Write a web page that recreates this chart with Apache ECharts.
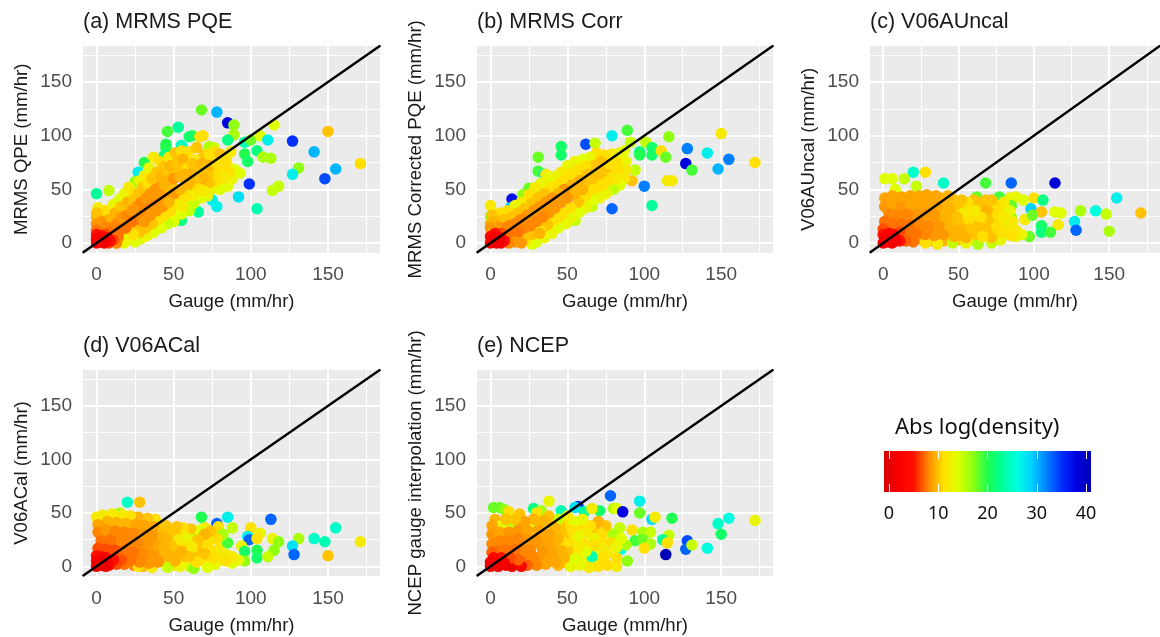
<!DOCTYPE html>
<html><head><meta charset="utf-8">
<style>html,body{margin:0;padding:0;background:#fff}#c{width:1160px;height:637px}</style>
<script src="https://cdn.jsdelivr.net/npm/echarts@6/dist/echarts.min.js"></script>
</head><body><div id="c"></div>
<script>
const majorTicks=[0,50,100,150];
const minorTicks=[25,75,125,175];
const legendTicks=[0,10,20,30,40];
const legendColors=['#d80000','#f80000','#ff1000','#ff8800','#ffe000','#e0ff00','#90ff10','#20ff50','#00ff9a','#00ffe0','#00d0ff','#0080ff','#0030ff','#0000e0','#0000b8'];
const titles=['(a) MRMS PQE','(b) MRMS Corr','(c) V06AUncal','(d) V06ACal','(e) NCEP'];
const yNames=['MRMS QPE (mm/hr)','MRMS Corrected PQE (mm/hr)','V06AUncal (mm/hr)','V06ACal (mm/hr)','NCEP gauge interpolation (mm/hr)'];
// [gauge, product, abs log density]
const fillA=[[4,25,10],[9,26,10],[14,30,10],[18,33,10],[22,36,10],[26,42,10],[30,46,10],[34,50,10],[37,55,10],[41,58,10],[44,62,10],[48,66,10],[52,68,10],[56,72,10],[60,74,10],[64,76,11],[69,78,10],[73,77,10],[77,79,11],[81,76,11],[85,72,12],[75,66,10],[79,66,11],[84,58,13],[71,62,10],[66,64,10],[62,60,10],[58,58,10],[65,54,10],[58,50,10],[74,50,12],[69,54,11],[63,50,11],[60,40,12],[55,40,11],[50,30,12],[45,32,10],[41,28,10],[38,24,10],[34,20,10],[30,16,10],[26,14,10],[22,10,10],[16,6,10],[20,8,10],[49,52,10],[45,48,10],[41,46,9],[37,42,9],[33,38,8.5],[29,34,8.5],[25,26,8.5],[21,22,8.5],[17,18,8],[37,30,9],[33,26,9],[29,24,8.5],[44,38,9],[53,42,10],[48,24,12],[44,20,12],[40,16,12],[36,12,12],[31,9,12],[26,5,12]];
const fillB=[[4,24,10],[9,26,10],[14,28,10],[18,32,10],[23,36,10],[27,42,11],[31,47,11],[35,52,11],[39,56,11],[43,58,11],[47,62,11],[52,68,11],[57,72,11],[62,76,11],[67,78,11],[72,80,10],[77,78,10],[82,80,11],[85,72,11],[85,64,12],[79,64,11],[75,70,10],[70,70,10],[65,68,10],[60,66,10],[55,62,10],[50,58,10],[45,52,10],[41,48,10],[37,44,9],[33,40,9],[29,36,9],[25,32,9],[21,27,9],[74,60,10],[69,56,10],[64,54,10],[59,52,10],[54,48,10],[49,46,10],[44,41,9],[40,36,9],[36,33,9],[31,28,8.5],[27,24,8.5],[79,54,12],[75,50,12],[70,46,12],[65,42,11],[60,38,10],[55,33,10],[50,28,10],[45,24,10],[40,18,10],[35,14,10],[30,7,10],[25,10,10],[21,12,9],[25,2,11]];
const fillC=[[3,39,9],[9,40,9],[15,39,9],[21,40,9],[27,40,9],[33,39,9],[38,42,9.5],[3,31,8.5],[9,31,8.5],[15,31,8.5],[21,31,9],[27,32,9],[33,31,9],[39,31,9.5],[46,28,10],[46,41,10],[50,32,10],[54,34,10],[58,32,11],[62,26,11],[66,34,10],[70,36,10],[74,30,10],[78,32,11],[82,26,12],[3,22,7.5],[9,22,7.5],[15,22,8],[20,22,8],[26,22,8.5],[32,21,9],[38,21,9],[43,20,9.5],[48,15,10],[52,20,10],[56,17,10],[60,20,11],[64,18,11],[68,20,10],[72,12,11],[76,16,11],[80,8,12],[84,13,12],[88,6,13],[3,14,7],[9,14,7],[15,13,7.5],[21,13,8],[27,13,8.5],[33,12,8.5],[38,12,9],[43,8,9.5],[46,2,12],[50,3,10],[54,10,10],[58,6,10],[60,3,12],[66,11,10],[70,8,10],[74,4,11],[78,3,13],[40,2,9.5],[33,2,9.5],[26,3,9],[20,5,7.5],[82,38,13],[84,42,13],[78,40,12],[68,40,10],[72,34,10],[80,30,12],[60,34,11],[56,28,11],[64,30,11],[50,38,10],[46,34,10],[52,8,9.5],[62,16,10],[72,26,10],[84,22,12]];
const fillD=[[3,36,9],[9,37,9],[15,36,9],[21,36,9],[27,35,9],[33,35,9.5],[39,34,9.5],[45,38,10],[50,30,10],[46,25,9.5],[55,30,10],[60,28,11],[65,32,11],[70,36,12],[75,26,11],[80,22,12],[3,29,8.5],[9,30,8.5],[15,29,8.5],[21,28,8.5],[27,28,9],[33,27,9],[39,23,9],[52,18,10],[57,21,11],[62,24,11],[67,17,10],[72,24,11],[76,14,11],[3,20,7],[9,20,7],[15,19,7.5],[21,18,7.5],[27,17,8],[33,15,8.5],[39,16,9],[44,11,9.5],[48,14,9.5],[55,9,9.5],[58,4,10],[62,12,10],[66,10,10],[70,5,11],[74,11,11],[80,6,12],[84,11,12],[88,3,14],[3,14,6],[9,13,6],[15,11,7],[21,9,7.5],[27,9,8],[33,8,9],[39,7,9],[45,4,9.5],[50,1,11],[30,0,9.5],[24,1,8],[18,2,7.5],[77,2,13],[60,0,13]];
const fillE=[[3,40,9.5],[9,38,9.5],[20,38,9.5],[25,40,9.5],[32,40,9.5],[40,40,9.5],[47,38,10],[52,40,11],[58,37,11],[64,32,10],[68,34,10],[72,24,11],[76,32,11],[80,25,13],[84,18,12],[3,33,8.5],[9,34,9],[15,36,9.5],[21,30,8.5],[27,30,9],[34,29,9],[41,28,9.5],[48,28,10],[54,24,11],[60,22,11],[65,18,12],[70,12,13],[76,12,12],[3,26,8],[9,27,8],[15,28,8],[21,20,8],[27,20,8],[33,19,9],[40,21,9],[46,21,9.5],[52,14,10],[57,11,12],[62,5,13],[68,5,12],[73,5,12],[3,18,7.5],[9,19,7.5],[15,21,8],[21,10,7.5],[26,13,8],[32,9,8.5],[38,8,9],[44,10,9],[50,3,10],[44,1,9.5],[3,12,7],[9,11,7],[16,10,7],[34,3,8.5],[27,3,7.5]];
const pointsA=[
[68,124,18],[78,122,30],[85,112,38],[89,110,17],[89,101,16],[53,108,23],[46,104,19],[62,100,20],[60,99,21],[67,99,11],[69,100,11],[45,92,20],[45,89,20],[55,91,25],[85,96,22],[96,94,24],[100,96,18],[106,100,14],[115,110,14],[111,96,27],[127,95,35],[150,104,10],[141,85,30],[104,86,22],[96,83,20],[98,76,21],[108,80,16],[113,79,16],[131,70,17],[127,64,27],[155,69,30],[171,74,11],[148,60,34],[99,55,35],[118,53,15],[114,49,15],[92,43,28],[75,40,27],[78,34,27],[104,32,24],[66,29,23],[55,21,22],[84,60,26],[0,46,23],[8,49,15],[27,66,27],[31,75,20],[44,82,22],[73,90,16],[76,89,15],[25,57,17],
[1,33,12],[6,30,11],[11,36,13],[15,41,14],[18,46,13],[21,52,12],[24,47,11],[28,58,13],[31,63,12],[34,70,13],[37,80,12],[41,76,11],[44,72,10],[47,80,12],[51,84,10],[55,86,11],[58,77,14],[60,85,11],[65,89,10],[66,78,12],[70,82,10],[73,83,11],[77,85,11],[80,83,10],[84,78,11],[87,85,12],[90,68,14],[93,65,14],[88,60,13],[85,53,14],[84,63,13],[80,50,14],[76,54,13],[72,44,13],[68,42,14],[63,37,15],[60,30,15],[55,27,14],[50,20,14],[46,18,15],[42,14,14],[37,10,14],[33,7,13],[29,4,13],[25,1,14],[20,3,13],[18,0,13],
[8,22,9.5],[12,28,9.5],[16,34,10],[20,38,9.5],[24,40,10],[27,46,10],[30,52,10],[33,56,11],[36,60,10],[39,66,10],[42,62,9.5],[45,68,10],[48,72,9.5],[52,74,10],[56,78,9.5],[59,70,11],[62,74,10],[65,70,10],[68,74,9.5],[71,70,10],[74,72,9.5],[78,74,11],[82,70,11],[86,66,11],[83,60,12],[78,58,11],[73,56,10],[69,60,9.5],[64,58,10],[60,55,9.5],[66,50,11],[70,48,12],[62,44,12],[57,44,11],[52,36,12],[56,34,12],[48,30,11],[44,26,11],[40,22,11],[36,18,10],[32,14,10],[28,10,10],[24,8,11],[13,0,9.5],
[0,24,9.5],[0,28,10],[3,20,8.5],[5,15,8],[9,14,8],[13,18,8],[16,24,8.5],[20,26,8],[23,30,8.5],[26,34,8.5],[29,38,8],[32,42,8.5],[35,46,8.5],[38,50,8.5],[41,52,8.5],[44,54,9.5],[47,58,9.5],[50,60,8.5],[54,62,9.5],[57,64,9.5],[61,64,9.5],[30,28,8],[34,32,8],[38,36,8],[42,40,8.5],[46,42,8.5],[50,46,8.5],[54,50,9.5],[27,22,8],[23,20,7.5],[19,14,7.5],[15,12,7.5],[11,8,7.5],[8,10,7.5],[31,20,8.5],[35,26,8.5],[39,30,8.5],[43,34,8.5],[47,38,9.5],[0,18,8.5],[0,12,7.5],[0,8,5],
[14,5,7.5],[13,0,8],[11,3,6.5],[8,0,6.5],[9,2,5],[6,8,6.5],[3,7,5],[7,5,3],[0,4,3],[2,5,2],[6,2,2],[5,0,2],[1,3,2],[3,1,2],[4,3,1],[0,0,2]];
const pointsB=[
[89,105,19],[79,100,27],[62,92,34],[68,93,15],[91,94,15],[101,94,15],[116,99,17],[46,90,21],[46,82,21],[31,80,18],[31,67,19],[35,64,28],[36,64,12],[14,41,37],[13,33,29],[0,35,12],[0,25,17],[97,85,22],[97,82,20],[105,89,21],[105,82,21],[111,86,11],[114,80,18],[128,88,32],[141,84,27],[127,74,38],[131,68,19],[155,78,32],[148,69,30],[150,102,12],[172,75,11],[100,53,32],[105,35,23],[79,32,33],[115,58,12],[118,58,12],[92,58,10],[94,68,15],[66,34,15],[55,21,15],[25,51,18],[21,45,17],
[87,86,14],[84,84,13],[79,83,12],[74,82,11],[69,84,11],[65,80,13],[60,78,14],[55,76,13],[50,72,13],[46,66,12],[42,62,13],[38,62,13],[33,56,13],[29,52,12],[25,45,11],[20,38,12],[16,35,13],[11,30,11],[6,28,11],[1,26,10],[88,76,13],[88,68,12],[87,60,12],[84,54,14],[80,50,15],[75,46,13],[71,42,13],[66,40,14],[62,33,13],[58,29,14],[53,24,13],[49,18,13],[44,14,14],[40,9,13],[35,5,13],[30,1,14],[27,-1,14],[23,2,12],
[82,76,11],[77,74,11],[72,76,10],[67,72,10],[62,72,11],[57,68,11],[52,64,11],[47,58,11],[43,54,11],[39,50,11],[35,46,10],[31,42,10],[27,37,10],[22,32,10],[18,28,10],[13,24,10],[8,22,10],[3,20,9.5],[83,68,11],[82,60,12],[77,58,11],[72,66,10],[67,62,10],[63,64,10],[72,54,11],[67,50,11],[62,44,11],[57,38,10],[52,33,11],[47,28,11],[42,22,11],[37,17,10],[32,12,11],[27,8,10],[22,6,10],
[58,58,9.5],[53,54,9.5],[48,50,8.5],[44,46,9.5],[40,42,8.5],[36,38,8.5],[32,34,8.5],[28,30,8.5],[24,26,8.5],[20,22,8],[16,18,8],[12,16,8],[8,14,8],[4,15,8.5],[0,18,9.5],[0,14,8.5],[60,50,9.5],[55,46,9.5],[50,42,8.5],[46,38,8.5],[42,33,8.5],[38,28,8.5],[34,24,8],[30,20,8],[26,16,8],[22,14,8],[18,10,7.5],[14,8,7.5],[32,9,9.5],[16,1,8.5],[20,0,8.5],[12,0,8],
[10,6,7.5],[7,9,6.5],[3,9,5],[9,2,5],[7,0,3],[6,5,2],[0,6,3],[3,5,2],[2,2,1],[5,2,1],[0,0,2],[4,0,1]];
const pointsC=[
[20,66,25],[28,66,11],[1,60,14],[6,60,14],[14,60,15],[22,53,15],[40,56,25],[68,56,19],[85,56,33],[114,56,39],[155,42,27],[100,42,11],[106,40,22],[98,32,29],[105,29,10],[114,29,14],[118,28,14],[131,30,16],[141,30,26],[148,27,15],[171,28,10],[94,22,12],[99,26,18],[116,17,12],[127,20,27],[105,16,21],[105,10,22],[111,10,19],[128,12,33],[150,11,16],[97,6,18],[77,43,19],[62,43,18],[88,43,13],[93,40,14],[85,35,18],[85,24,17],[8,50,14],
[46,0,15],[55,0,13],[63,-1,16],[72,0,15],[36,-1,12],[28,0,11],[92,8,13],[88,12,12],[85,7,11],[82,17,12],[78,10,11],[75,22,11],[72,5,10],[68,14,10],[86,20,12],[84,30,13],[80,38,12],[76,35,11],[72,40,10],[68,30,9.5],[64,38,10],[60,40,10],[56,38,11],[52,40,10],[48,36,10],[70,22,10],[65,24,11],[61,30,12],[57,22,11],[53,28,12],[49,24,10],[62,8,10],[58,13,10],[55,5,9.5],[51,12,9.5],[47,6,9.5],[44,14,9.5],[41,24,9.5],[44,32,9.5],[40,38,9.5],[43,44,9.5],[76,26,11],[66,6,11],[80,24,12],
[35,44,9],[29,45,9],[24,44,9],[18,44,9],[12,43,9],[6,44,9],[1,42,9],[1,34,8.5],[6,37,9],[12,34,8.5],[18,36,9],[24,35,9],[30,36,9],[36,34,9],[34,26,8.5],[28,27,8.5],[22,26,8.5],[16,27,8],[10,26,8],[4,27,8],[1,20,7.5],[6,18,7.5],[12,18,7.5],[18,17,7.5],[24,18,8],[30,16,8],[37,16,8.5],[40,8,8.5],[34,7,8.5],[28,8,8],[22,9,7.5],[16,9,7.5],[11,10,6.5],[0,13,6.5],[0,8,5],
[20,1,7.5],[15,2,7],[11,2,5],[7,8,3],[8,2,2],[4,9,3],[1,5,2],[4,3,1],[0,0,1],[6,0,1],[3,1,2],[8,5,2]];
const pointsD=[
[20,60,25],[28,60,10],[68,46,20],[78,40,33],[79,37,11],[85,46,27],[113,44,33],[155,36,25],[100,36,11],[88,36,15],[106,31,13],[98,28,27],[99,25,33],[104,26,11],[114,26,13],[118,23,17],[131,26,16],[141,26,25],[148,23,24],[171,23,12],[127,19,28],[128,11,33],[150,10,10],[94,19,13],[96,14,21],[104,15,20],[104,8,21],[115,15,17],[111,9,15],[96,5,17],[85,22,19],[80,28,16],[15,50,16],[82,30,16],[62,33,15],[67,34,14],
[46,-1,15],[54,0,13],[63,-2,17],[72,-1,14],[36,-1,12],[27,0,11],[92,6,13],[88,9,12],[84,5,11],[80,14,12],[76,8,11],[72,18,11],[78,26,11],[74,33,10],[70,30,9.5],[66,25,10],[61,35,10],[56,36,11],[52,37,10],[48,33,10],[70,12,10],[65,4,11],[62,18,12],[58,27,13],[53,25,12],[49,19,10],[60,9,10],[55,14,9.5],[51,5,9.5],[47,10,9.5],[43,28,9.5],[42,38,10],[38,44,11],[33,45,10],[27,46,9.5],[22,47,11],[17,48,12],[10,49,12],[4,48,12],[0,46,12],[44,18,9.5],
[37,37,9],[31,38,9],[25,39,9],[19,40,9.5],[13,41,9.5],[7,42,9.5],[1,39,9],[1,32,8],[6,34,8.5],[12,33,8],[18,32,8],[24,31,8],[30,30,8.5],[36,28,8.5],[33,20,8.5],[27,22,8],[21,23,8],[15,24,8],[9,25,7.5],[3,24,7.5],[1,17,6.5],[6,16,6.5],[12,15,6.5],[18,14,7.5],[24,13,7.5],[30,11,8],[37,10,8.5],[40,4,8.5],[34,3,8.5],[28,4,8],[22,5,7.5],[16,6,6.5],[0,10,5],
[13,2,6.5],[11,6,5],[8,1,3],[6,8,3],[3,9,3],[7,4,2],[0,5,2],[4,5,1],[3,1,1],[0,0,1],[6,0,1]];
const pointsE=[
[78,66,33],[97,61,27],[38,61,13],[57,56,35],[55,55,28],[2,55,18],[6,55,18],[9,53,17],[28,54,22],[46,52,24],[61,51,23],[71,52,21],[80,54,16],[82,54,14],[86,51,38],[97,50,18],[105,44,28],[107,46,12],[118,45,20],[148,40,25],[155,45,26],[172,43,13],[150,30,21],[99,32,16],[104,32,15],[116,29,15],[92,34,11],[94,24,19],[99,25,18],[104,21,16],[100,17,11],[112,25,23],[115,22,11],[128,24,34],[127,16,33],[131,20,15],[141,17,26],[114,11,99],[85,16,26],[88,20,16],[89,5,17],[66,9,24],[66,54,12],[33,52,16],[19,49,10],
[82,0,12],[76,1,11],[70,0,11],[64,-1,12],[58,1,13],[52,0,13],[82,8,11],[74,9,11],[84,36,15],[80,30,16],[85,26,14],[78,22,11],[82,18,13],[75,38,10],[70,42,9.5],[65,38,11],[60,44,13],[54,42,14],[50,47,12],[44,44,15],[38,47,10],[30,50,11],[12,51,11],[3,44,9.5],[7,38,13],[14,40,15],[28,36,14],[72,30,11],[67,26,13],[62,32,12],[57,28,13],[52,34,11],[72,18,12],[67,20,11],[62,14,14],[57,18,12],[55,7,14],[48,22,11],[46,32,10],[42,36,9.5],
[35,43,9.5],[28,44,9.5],[22,42,9],[16,44,10],[10,44,10],[1,38,9],[1,30,8.5],[6,32,9],[12,32,8.5],[18,34,8.5],[24,34,9],[31,34,9],[38,30,9],[36,22,9],[30,24,8.5],[24,25,8.5],[18,26,8],[12,24,8],[6,24,8],[44,26,9.5],[46,15,9.5],[40,13,9],[48,8,9.5],[42,4,9],[34,14,8.5],[36,2,9],[30,1,8],[28,8,8],[22,15,8],[16,16,7.5],[10,15,7.5],[1,21,8],[5,15,7.5],[1,13,7],
[24,1,7],[20,0,3],[14,0,1],[10,1,1],[5,0,1],[18,6,7],[13,8,6.5],[7,8,5],[2,8,3],[0,4,2],[4,3,2],[9,3,2],[0,0,1]];
const panelPoints=[fillA.concat(pointsA),fillB.concat(pointsB),fillC.concat(pointsC),fillD.concat(pointsD),fillE.concat(pointsE)];
const identityLine=[[-9,-9],[184,184]];

const rects=[[83,46,297,206.7],[477,46,296,206.7],[870,46,296,206.7],[83,370,297,206],[477,370,296,206]];
const grid=[],xAxis=[],yAxis=[],series=[],title=[];
const tickColor='#333';const labelColor='#4d4d4d';const font='"Liberation Sans",Arial,sans-serif';
rects.forEach((r,i)=>{
  grid.push({left:r[0],top:r[1],width:r[2],height:r[3],show:true,backgroundColor:'#ebebeb',borderWidth:0,containLabel:false});
  title.push({text:titles[i],left:r[0],top:r[1]-35,padding:0,textStyle:{fontFamily:font,fontSize:21.5,fontWeight:'normal',color:'#1a1a1a'}});
  const common={type:'value',min:-8.75,max:183.7,gridIndex:i,splitLine:{show:false},minorSplitLine:{show:false},
    axisLine:{show:false},
    axisTick:{show:true,length:5,customValues:majorTicks,lineStyle:{color:tickColor,width:2}},
    axisLabel:{customValues:majorTicks,color:labelColor,fontFamily:font,fontSize:19,margin:13,showMinLabel:true,showMaxLabel:true},
    nameLocation:'middle',nameTextStyle:{fontFamily:font,fontSize:18.6,color:'#1a1a1a'}};
  xAxis.push(Object.assign({},common,{name:'Gauge (mm/hr)',nameGap:40}));
  yAxis.push(Object.assign({},common,{min:-9,max:183.6,name:yNames[i],nameGap:52,axisLabel:Object.assign({},common.axisLabel,{margin:11})}));
  const ml=(vals,w)=>vals.flatMap(v=>[{xAxis:v,lineStyle:{color:'#fff',width:w,type:'solid'}},{yAxis:v,lineStyle:{color:'#fff',width:w,type:'solid'}}]);
  series.push({type:'scatter',xAxisIndex:i,yAxisIndex:i,data:[[-100,-100,0]],symbolSize:0,z:1,silent:true,
    markLine:{z:1,silent:true,symbol:'none',label:{show:false},animation:false,lineStyle:{type:'solid'},data:ml(minorTicks,1).concat(ml(majorTicks,2))}});
  series.push({type:'scatter',name:titles[i],xAxisIndex:i,yAxisIndex:i,data:panelPoints[i],symbolSize:11.5,z:2,
    itemStyle:{opacity:1},clip:true,large:false});
  series.push({type:'line',xAxisIndex:i,yAxisIndex:i,data:identityLine,showSymbol:false,z:3,clip:true,silent:true,
    lineStyle:{color:'#000',width:2.4}});
});
// colour bar
const L=rects.length;
const stops=legendColors.map((c,i)=>({offset:i/(legendColors.length-1),color:c}));
grid.push({left:884,top:451,width:207,height:41,show:true,borderWidth:0,
  backgroundColor:{type:'linear',x:0,y:0,x2:1,y2:0,colorStops:stops}});
const barAxis={type:'value',gridIndex:L,min:-1,max:41,splitLine:{show:false},axisLine:{show:false},
  axisTick:{show:true,inside:true,length:8,customValues:legendTicks,lineStyle:{color:'#fff',width:1}}};
xAxis.push(Object.assign({},barAxis,{position:'bottom',axisLabel:{customValues:legendTicks,margin:13,color:'#111',fontFamily:'"Noto Sans"',fontSize:18}}));
xAxis.push(Object.assign({},barAxis,{position:'top',axisLabel:{show:false}}));
yAxis.push({type:'value',gridIndex:L,min:0,max:1,show:false});
series.push({type:'line',xAxisIndex:L,yAxisIndex:L,data:[]});
series.push({type:'line',xAxisIndex:L+1,yAxisIndex:L,data:[]});
title.push({text:'Abs log(density)',left:895,top:417,padding:0,textStyle:{fontFamily:'"Noto Sans"',fontSize:22,fontWeight:'normal',color:'#111'}});

const chart=echarts.init(document.getElementById('c'),null,{renderer:'canvas'});
chart.setOption({animation:false,backgroundColor:'#fff',title,grid,xAxis,yAxis,series,tooltip:{show:false},
  visualMap:{show:false,type:'continuous',min:-1,max:41,dimension:2,seriesIndex:[1,4,7,10,13],
    inRange:{color:legendColors},outOfRange:{color:'#808080'}}});
</script></body></html>
